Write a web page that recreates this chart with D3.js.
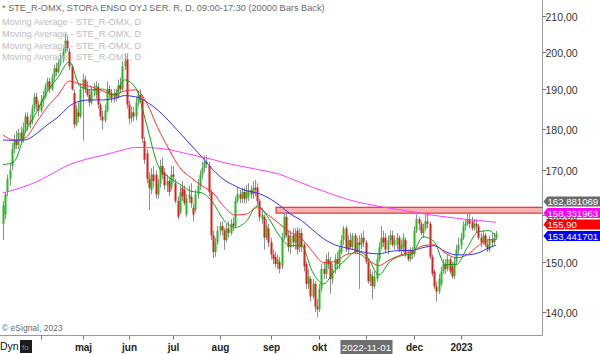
<!DOCTYPE html>
<html><head><meta charset="utf-8">
<script src="https://cdn.jsdelivr.net/npm/d3@7"></script>
<style>
body{margin:0;background:#fff}
svg{display:block;font-family:"Liberation Sans",Arial,sans-serif}
</style>
</head><body>
<svg id="c" width="600" height="354"></svg>
<script>
// ---- data (bar index 0..223, daily, Mar 2022 - Jan 2023) ----
const open=[158,160,165,168,171,175,177,176,179,177.5,180,183,181,182,185,188,186,184.5,187,188,190.5,192,190,193,195.5,194.5,197,198,200,203,
200,196,189,181,184,183,190,192.5,190,188.5,186.5,189.5,188.5,190.5,186,183,182,184.5,190,189,187.5,189,188,191,190,196,198,186,182.5,184,
183,186.5,188.5,187.5,177,174,168,165.5,169,169,164.5,167,171,169.5,166.5,167.5,166,169,167,163,160.5,166,165.5,160,163.5,164,161.5,161,164.5,166.5,
169,170.5,172,171,165,155.5,152,154,156.5,157.5,156.5,154.5,157,156,158,157.5,163,164.5,163.5,165,163.5,164,165.5,164.5,166,166,163,159,159.5,155,
157,154,151.5,151,149.5,150,149,155,159.5,155.5,153,155.5,154,156.5,153,156,153.5,149.5,145.5,146.5,143,145.5,141,140.5,144.5,148.5,147.5,150.5,150,146.5,
148.5,150.5,149.5,152,154.5,157,152.5,154.5,153,155.5,152,154,153.5,155,154,150,146,147,145,146.5,150.5,153,155,155,152.5,154.5,155.5,153.5,153.5,155,
152.5,153,154.5,151.5,150.5,152,151.5,156.5,159,158,156,157,158.5,158,151,148,145,144,145.5,148,149.5,148.5,150.5,149,147,150,152.5,153.5,155,157.5,
158,159,158.5,157,158,157.5,155,154,155.5,153.5,152.5,154.5,154,155];
const high=[163,165,169,171.5,176.5,178.5,179.5,180,180.5,181.5,184,184,183.5,186,189,189,187,188.5,189.5,191.5,193,193,194,196.5,197,198,199.5,201,205,204.5,
201,196.5,190,186,186.5,191.5,194,193.5,192,190,190.5,191.5,192,191.5,186.5,184.5,186,192,191,190,190,190,192.5,193,197.5,199.5,199.5,187,185.5,185.5,
188,189.5,190,188.5,178,175,169.5,170.5,171,170,168,172.5,173,170.5,169,168.5,171,171,168,164,166.5,167.5,166.5,164.5,166.5,167,162.5,165.5,168,170,
172,173.5,173.5,172,165.5,156.5,155,157.5,158.5,158.5,157,158,158.5,159,159.5,164,166,165.5,166,166,166.5,167,166.5,167.5,167.8,167,163.5,161.5,160,159,
158,155,152.5,152,151.5,151,156,160.2,160.5,156.5,156.5,157,157,157.3,157,157,154,150,148.5,147,146.5,146,142.5,145.5,149.5,150,151.5,152,151,149.5,
151.5,152,153,155.5,157.5,157.5,155.5,156,156,156,155,155.5,156,156.5,154.5,150.5,148.5,148,148,151.5,154,157.5,156.5,156,155.5,156.5,156.5,155.5,156,155.5,
154.5,156,155,152.5,153,153,157.5,160,159.5,158.5,158,160,160.5,158.5,151.5,148.5,146,147.5,149,150.5,150.5,151.5,151,150,151,153.5,155,156,158.5,159,
160.5,160.5,159.5,159,159,158,156,156.5,156,154.5,155.5,156,156,156.5];
const low=[154.5,159,164,166.5,170,174,175,175,176.5,176.5,179,179.5,180,181,184,184.5,183,184,185.5,187.5,189.5,189,189.5,192,193.5,194,196,197,199.5,200,
195,189.5,180,180.5,181.5,182.5,177,189,188,185.5,186,188,187.5,185,182,179.8,181.5,184,187.5,186.5,186.5,186.8,187.5,189,189.5,195,185,181,181.5,181.8,
182,185.5,186.5,176.5,171.5,167,161,164.5,166,163.5,163.5,166,168,165.5,165,164,165.5,167,162.5,159,160,163,162,159.5,162.5,161.5,158.5,160.5,163.5,165.5,
168,169.5,170.5,164,154.5,150.8,151,153.5,155.5,155.5,152.5,154,155,155.5,156.5,157,162.5,162.5,162.5,162.5,162.5,163,163.5,163.5,164,162,158.5,158,152.5,154.5,
153,150.5,149.5,148.8,148.5,147.6,148.5,154.5,155,152,151.5,153,152.5,151.5,152,152,148,144.5,144.5,142,142.6,140,139,140,144,146.5,146.5,148.5,143.5,145.5,
147.5,148.5,148.5,151.5,153.5,152,151.5,152.5,152.5,151.5,151.5,144.5,152.5,153,149.5,145.5,145,142.5,144.5,146,150,152.5,153,152,151.5,153.5,153,152.5,152.5,152,
151.5,152,151,150,150,150.5,151,156,156.5,155.5,155,156.5,157,150.5,147,144.5,142,143.5,145,147.5,147.5,148,147.5,146.5,146.5,149.5,151.5,152.5,154.5,156.5,
157.5,157,156.5,156.5,156,154.5,153,153.5,153,152,152,153,153.5,154.5];
const close=[162,164.5,168,170,175,177,176,179,177.5,180,183,181,182,185,188,186,184.5,187,188,190.5,192,190,193,195.5,194.5,197,198,200,203,201,
196,190,181,185,183,190,192.5,190,188.5,186.5,189.5,190,191,186,183,182,184.5,190,189,187.5,189,188,191,190,196,197.5,186,182.5,184,183,
186.5,188.5,187.5,177.5,172.5,168,166,169,167.5,164.5,167,171,169,166.5,167.5,165,169,168.5,163,159.5,165,164,162.5,163.5,164.5,162.5,160,164.5,166.5,169,
170.5,172,171.5,165,155.5,152,154,156.5,157.5,156.5,154.5,157,156,158,157.5,163,164.5,163.5,165,163.5,165,165.5,164.5,166,165.5,163,159.5,160,155,157.5,
154,151.5,150.5,149.5,150.5,148.5,155,159.5,155.5,153,155.5,154,156,152.5,156,153,149,145.5,147,143,145.5,141,140.5,144.5,148.5,147.5,150.5,149.5,146.5,148.5,
150.5,149.5,152.5,154.5,157,152.5,154.5,153,155.5,152,154,153.5,155,154,150,146,147.5,145,147,150.5,153,155,154,152.5,154.5,155.5,153.5,154.5,155,152.5,
153.5,155,151.5,150.5,152,151.5,156.5,159,158,156,157,158.5,158,151,147.5,145,144,146.5,148,149.5,148.5,150.5,148,147,150,152.5,153.5,155,157.5,158,
159,158,157,158,157.5,155,154,155.5,153.5,152.5,154.5,154,155,155.9];

// moving averages at these bars
const maBars=[0,5,10,15,20,25,30,35,40,45,50,55,60,65,70,75,80,85,90,95,100,105,110,115,120,125,130,135,140,145,150,155,160,165,170,175,180,185,190,195,200,205,210,215,220,223];
const maLong=[164.8,165.5,166.3,167.3,168.6,170,171.3,172.2,172.9,173.5,174.2,174.9,175.4,175.4,175.2,174.9,174.3,173.7,173.1,172.5,171.8,171.2,170.7,170.2,169.7,169.1,168.1,167.1,166.1,165.2,164.3,163.5,162.8,162.3,161.8,161.4,161,160.6,160.2,159.8,159.5,159.2,158.9,158.7,158.45,158.33];
const maBlue=[177.2,177.1,177.2,178.7,180.9,182.9,185.6,186.9,187.2,187.2,187.5,188.3,188,186.7,184.6,181.9,178.9,176,173.1,170.1,167.8,166.4,165.3,164.8,163.7,162.1,160.1,158.7,156.7,154.8,153.5,152.9,152.3,151.8,151.6,152.1,152.3,152.3,152.9,153.3,152.1,151.4,151.4,151.8,152.9,153.44];
const maRed=[178.4,177.2,177.7,181.4,185.4,188.5,192.1,191.3,190.6,189.5,188.5,189.5,189.8,186.4,180.2,175,170.6,168.3,166.4,164.8,161.7,159.9,160.1,161.5,159.9,158,156.1,154.8,152.1,149.8,150,151.4,151.8,150.4,149.2,150.4,151.4,152.1,153.3,153.5,151.8,150.8,151.4,153.3,154.6,154.6];
const maGreen=[171.3,172,179,183.9,189.3,193.2,197.2,190.6,189.8,190,188.5,192.4,190.3,180.9,171.3,168.4,166.8,165.2,164.8,162.6,158.7,157.2,158.5,161.9,159.3,155.4,153.3,153.3,147.9,145.5,148.1,150.4,152.1,150.8,147.3,150,151.2,151.6,155.2,154.2,149.4,149.4,152.9,156.3,156.5,155.2];

const yTicks=[140,150,160,170,180,190,200,210];
const monthBars=[17,36,57,77,98,121,143,164,186,207];
const monthLabels=["","maj","jun","jul","aug","sep","okt","2022-11-01","dec","2023"];
const zoneStartBar=123.5, zoneLow=160.3, zoneHigh=161.6;
const valueLabels=[
  {v:162.881069,t:"162,881069",c:"#6b6b6b"},
  {v:158.331963,t:"158,331963",c:"#ff00ff"},
  {v:155.90,t:"155,90",c:"#ff0000"},
  {v:153.441701,t:"153,441701",c:"#0000ff"}];
const legendLines=["* STE_R-OMX, STORA ENSO OYJ SER. R, D, 09:00-17:30 (20000 Bars Back)",
  "Moving Average - STE_R-OMX, D","Moving Average - STE_R-OMX, D","Moving Average - STE_R-OMX, D","Moving Average - STE_R-OMX, D"];

// ---- layout ----
const W=600,H=354, axisX=542.5, plotBottom=335.5;
const svg=d3.select("#c");
svg.append("rect").attr("width",W).attr("height",H).attr("fill","#fff");
const x=d3.scaleLinear().domain([0,223]).range([3,496]);
const y=d3.scaleLog().domain([140,210]).range([312,16]);

svg.append("clipPath").attr("id","plot").append("rect").attr("x",0).attr("y",0).attr("width",axisX).attr("height",plotBottom);
const g=svg.append("g").attr("clip-path","url(#plot)");

// resistance zone
g.append("rect").attr("x",x(zoneStartBar)).attr("y",y(zoneHigh))
 .attr("width",axisX-x(zoneStartBar)).attr("height",y(zoneLow)-y(zoneHigh))
 .attr("fill","#f7b2b2").attr("stroke","#e8101a").attr("stroke-width",1);

// candles
const idx=d3.range(close.length);
g.append("g").selectAll("line").data(idx).join("line")
 .attr("x1",i=>Math.round(x(i))+0.5).attr("x2",i=>Math.round(x(i))+0.5)
 .attr("y1",i=>y(high[i])).attr("y2",i=>y(low[i]))
 .attr("stroke","#8f8f8f").attr("stroke-width",1);
g.append("g").selectAll("rect").data(idx).join("rect")
 .attr("x",i=>Math.round(x(i))-0.5).attr("width",2)
 .attr("y",i=>y(Math.max(open[i],close[i])))
 .attr("height",i=>Math.max(1,Math.abs(y(open[i])-y(close[i]))))
 .attr("fill",i=>close[i]>=open[i]?"#1fbe1f":"#e41b1b");

// moving averages
const mas=[[maLong,"#ff3dff"],[maBlue,"#3030ff"],[maRed,"#ff3030"],[maGreen,"#129e12"]];
mas.forEach(([arr,col])=>{
  const line=d3.line().x((d,k)=>x(maBars[k])).y(d=>y(d)).curve(d3.curveMonotoneX);
  g.append("path").attr("d",line(arr)).attr("fill","none").attr("stroke",col).attr("stroke-width",1);
});

// legend text
legendLines.forEach((t,k)=>{
  svg.append("text").attr("x",2).attr("y",k===0?10.5:25+(k-1)*11.8)
   .attr("font-size",9.2).attr("fill",k===0?"#6a6a6a":"#bdbdbd").text(t);
});
svg.append("text").attr("x",2).attr("y",331).attr("font-size",8.5).attr("fill","#6a6a6a").text("\u00a9 eSignal, 2023");

// frame
svg.append("line").attr("x1",0).attr("x2",axisX).attr("y1",plotBottom).attr("y2",plotBottom).attr("stroke","#9a9a9a");
svg.append("line").attr("x1",axisX).attr("x2",axisX).attr("y1",0).attr("y2",plotBottom).attr("stroke","#9a9a9a");

// y axis
const ya=svg.append("g");
yTicks.forEach(v=>{
  const yy=Math.round(y(v))+0.5;
  ya.append("line").attr("x1",axisX).attr("x2",axisX+4).attr("y1",yy).attr("y2",yy).attr("stroke","#777");
  ya.append("text").attr("x",axisX+3).attr("y",yy+4).attr("font-size",10.5).attr("fill","#333").text(d3.format(".2f")(v).replace(".",","));
});

// value labels, stacked below the first one
const lh=11.5, y0=y(valueLabels[0].v);
valueLabels.forEach((L,k)=>{
  const yc=y0+k*lh;
  svg.append("path").attr("d",`M${axisX+1},${yc} L${axisX+5},${yc-5} L600,${yc-5} L600,${yc+5} L${axisX+5},${yc+5} Z`).attr("fill",L.c);
  svg.append("text").attr("x",axisX+5).attr("y",yc+3.6).attr("font-size",9.6).attr("fill","#fff").text(L.t);
});

// x axis
monthBars.forEach((b,k)=>{
  const xx=Math.round(x(b))+0.5;
  svg.append("line").attr("x1",xx).attr("x2",xx).attr("y1",plotBottom).attr("y2",plotBottom+4).attr("stroke","#777");
  const lab=monthLabels[k];
  if(!lab) return;
  if(lab.length>5){
    svg.append("rect").attr("x",xx-26).attr("y",340).attr("width",52).attr("height",14).attr("fill","#6e6e6e");
    svg.append("text").attr("x",xx).attr("y",351).attr("text-anchor","middle").attr("font-size",9.8).attr("fill","#fff").text(lab);
  } else {
    svg.append("text").attr("x",xx).attr("y",351).attr("text-anchor","middle").attr("font-size",10).attr("font-weight","bold").attr("fill","#222").text(lab);
  }
});
svg.append("text").attr("x",0).attr("y",350).attr("font-size",10.5).attr("fill","#111").text("Dyn");
svg.append("rect").attr("x",20).attr("y",340).attr("width",12).attr("height",13).attr("fill","#1c1c1c");
svg.append("text").attr("x",22).attr("y",350).attr("font-size",8).attr("fill","#888").text("fo");
</script>
</body></html>
